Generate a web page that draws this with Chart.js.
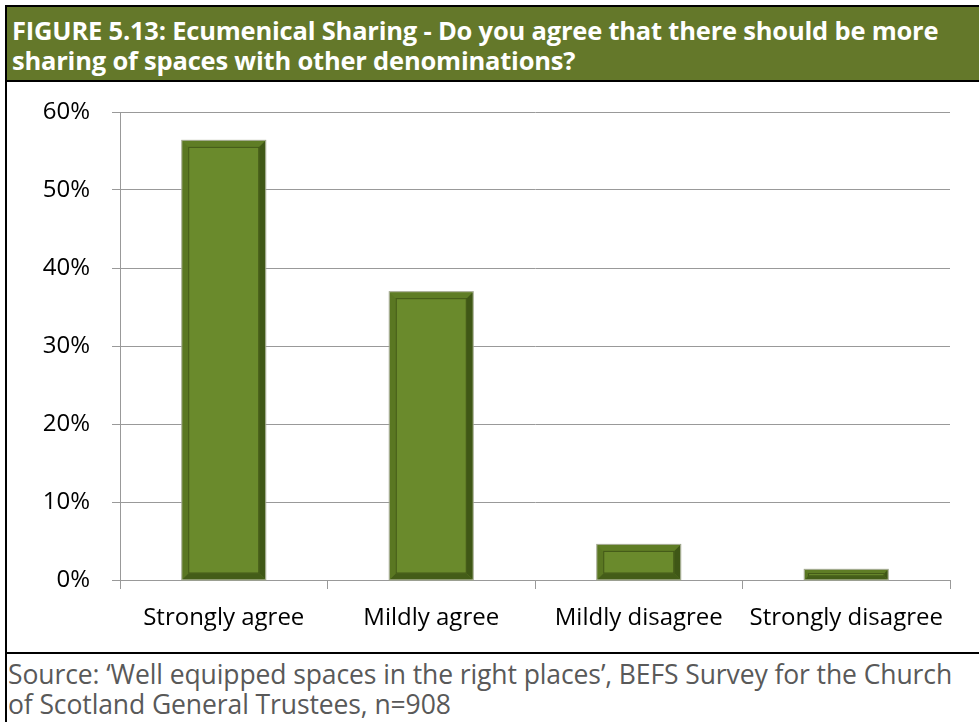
<!DOCTYPE html>
<html>
<head>
<meta charset="utf-8">
<script src="https://cdn.jsdelivr.net/npm/chart.js@4.4.0/dist/chart.umd.min.js"></script>
<style>
  body { margin: 0; background: #fff; width: 979px; height: 722px; overflow: hidden; }
  #frame { position: absolute; left: 5px; top: 5px; width: 974px; height: 717px;
           border-left: 2px solid #000; border-top: 2px solid #000; }
  #title { height: 75px; background: #64782a; color: #fff; border-bottom: 2px solid #000;
           font: bold 25.5px "Open Sans", sans-serif; line-height: 30px; padding: 8px 0 0 5px;
           box-sizing: border-box; white-space: nowrap; letter-spacing: -0.2px; }
  #plot { position: relative; height: 570px; border-bottom: 2px solid #000; }
  #source { color: #595959; font: 26.5px "Open Sans", sans-serif; line-height: 30px;
            padding: 5px 0 0 1px; white-space: nowrap; letter-spacing: -0.1px; }
</style>
</head>
<body>
<div id="frame">
  <div id="title">FIGURE 5.13: Ecumenical Sharing - Do you agree that there should be more<br>sharing of spaces with other denominations?</div>
  <div id="plot"><canvas id="chart"></canvas></div>
  <div id="source">Source: ‘Well equipped spaces in the right places’, BEFS Survey for the Church<br>of Scotland General Trustees, n=908</div>
</div>
<script>
var categories = ['Strongly agree', 'Mildly agree', 'Mildly disagree', 'Strongly disagree'];
var shares = [56.3, 36.9, 4.5, 1.3];
var yTicks = [0, 10, 20, 30, 40, 50, 60];

// bars get a bevelled look: darker inner frame and shaded edges
var bevel = {
  id: 'bevel',
  afterDatasetsDraw: function(chart){
    var ctx = chart.ctx;
    chart.getDatasetMeta(0).data.forEach(function(bar){
      var l = bar.x - bar.width / 2, r = bar.x + bar.width / 2;
      var t = bar.y, b = bar.base;
      var h = b - t, e = Math.min(6, h / 3);
      ctx.save();
      ctx.fillStyle = '#6a8a2c';
      ctx.fillRect(l, t, r - l, h);
      // top edge
      ctx.fillStyle = '#5f7d25';
      ctx.beginPath(); ctx.moveTo(l, t); ctx.lineTo(r, t); ctx.lineTo(r - e, t + e); ctx.lineTo(l + e, t + e); ctx.fill();
      // left edge
      ctx.fillStyle = '#5a7722';
      ctx.beginPath(); ctx.moveTo(l, t); ctx.lineTo(l + e, t + e); ctx.lineTo(l + e, b - e); ctx.lineTo(l, b); ctx.fill();
      // right edge
      ctx.fillStyle = '#3f5716';
      ctx.beginPath(); ctx.moveTo(r, t); ctx.lineTo(r, b); ctx.lineTo(r - e, b - e); ctx.lineTo(r - e, t + e); ctx.fill();
      // bottom edge
      ctx.fillStyle = '#445d18';
      ctx.beginPath(); ctx.moveTo(l, b); ctx.lineTo(r, b); ctx.lineTo(r - e, b - e); ctx.lineTo(l + e, b - e); ctx.fill();
      ctx.strokeStyle = 'rgba(40,55,10,0.6)';
      ctx.lineWidth = 1;
      ctx.strokeRect(l + e + 0.5, t + e + 0.5, r - l - 2 * e - 1, h - 2 * e - 1);
      ctx.strokeStyle = '#9ea58a';
      ctx.strokeRect(l - 0.5, t - 0.5, r - l + 1, h + 1);
      ctx.restore();
    });
  }
};

var ctx = document.getElementById('chart').getContext('2d');
var myChart = new Chart(ctx, {
  type: 'bar',
  data: {
    labels: categories,
    datasets: [{
      data: shares,
      backgroundColor: 'rgba(0,0,0,0)',
      borderWidth: 0,
      categoryPercentage: 1.0,
      barPercentage: 0.4
    }]
  },
  options: {
    responsive: true,
    maintainAspectRatio: false,
    animation: false,
    layout: { padding: { top: 30, right: 31, left: 0, bottom: 0 } },
    plugins: {
      legend: { display: false },
      tooltip: { enabled: false }
    },
    scales: {
      x: {
        afterFit: function(scale){
          scale.height = 72;
          scale.paddingLeft = 0; scale.paddingRight = 0;
        },
        grid: { offset: true, drawOnChartArea: false, color: '#999', tickLength: 9 },
        border: { color: '#999' },
        ticks: { color: '#000', padding: 15, font: { family: 'Open Sans', size: 24 }, maxRotation: 0, autoSkip: false }
      },
      y: {
        min: 0,
        max: 60,
        afterFit: function(scale){
          scale.width = 113;
          scale.paddingTop = 0; scale.paddingBottom = 0;
        },
        afterBuildTicks: function(scale){
          scale.ticks = yTicks.map(function(v){ return { value: v }; });
        },
        grid: { color: '#999', tickLength: 8 },
        border: { color: '#999' },
        ticks: {
          color: '#000', padding: 22,
          font: { family: 'Open Sans', size: 24 },
          callback: function(value){ return value + '%'; }
        }
      }
    }
  },
  plugins: [bevel]
});
</script>
</body>
</html>
